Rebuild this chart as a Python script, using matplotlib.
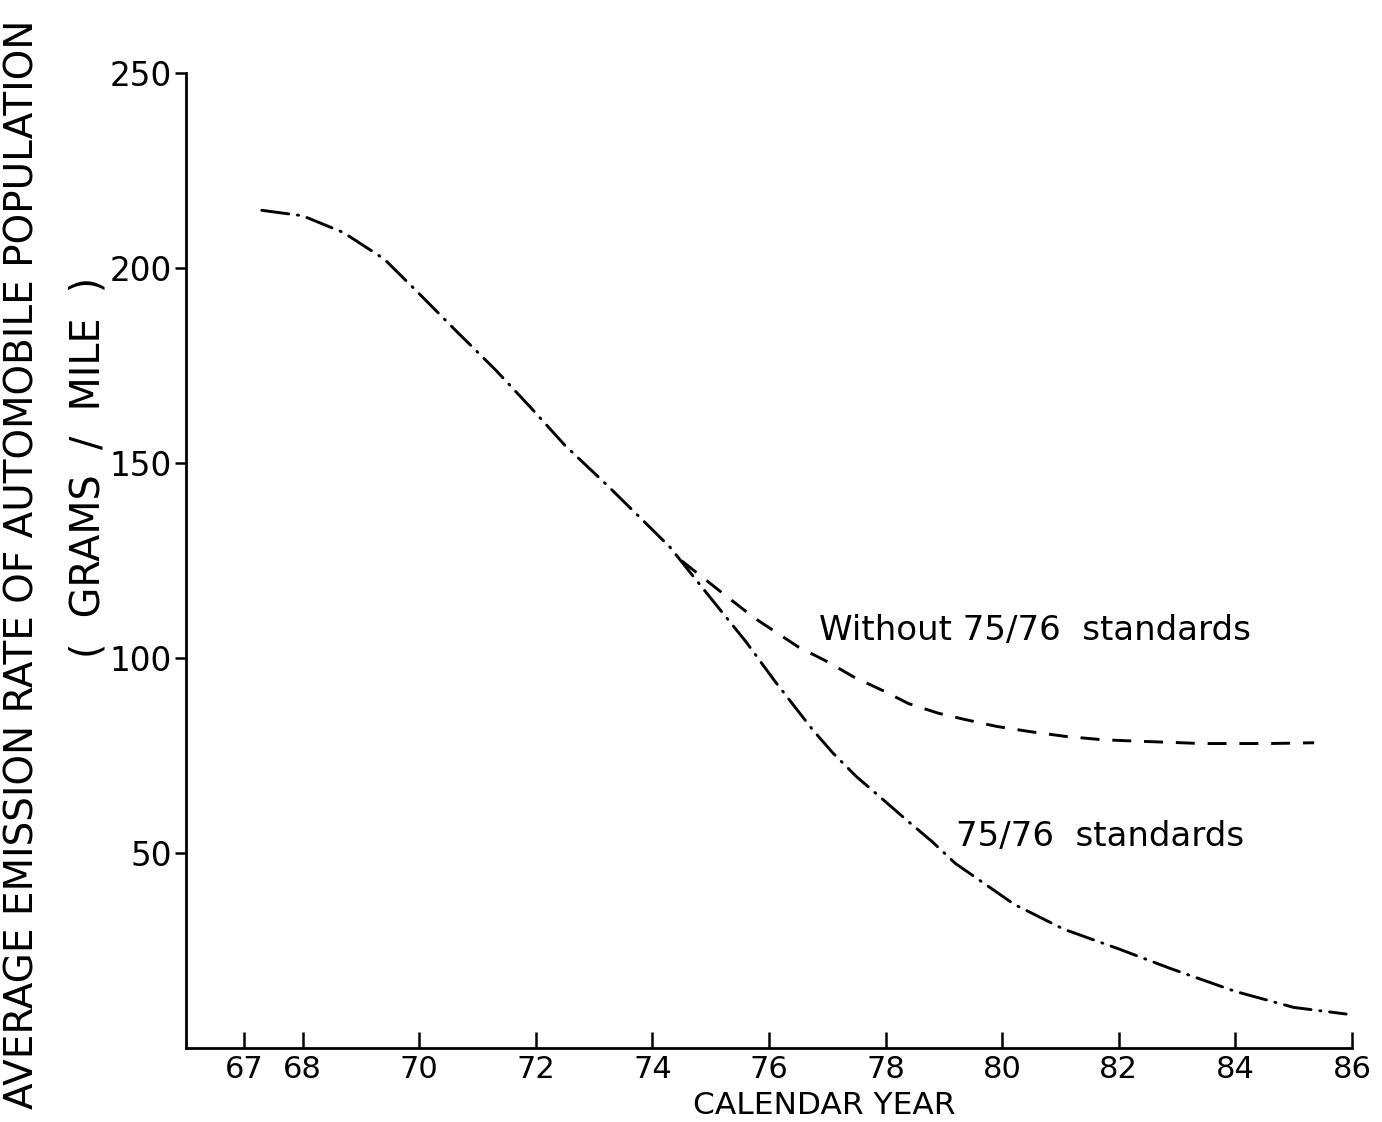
import matplotlib
matplotlib.use("Agg")
import matplotlib.pyplot as plt

# 75/76 standards (dash-dot curve)
std_years = [67.3, 68.0, 68.7, 69.4, 70.0, 70.65, 71.3, 71.9, 72.5, 73.2, 73.8, 74.3,
             75.0, 75.6, 76.1, 76.75, 77.1, 77.5, 77.95, 78.35, 78.8, 79.2, 80.2,
             81.05, 82.0, 82.9, 84.0, 85.0, 85.9]
std_vals = [214.9, 213.5, 209.2, 202.4, 193.5, 183.7, 174.1, 164.5, 154.6, 144.7,
            135.9, 128.5, 115.4, 104.3, 94.1, 81.6, 75.6, 69.6, 63.8, 58.6, 52.9,
            47.3, 36.9, 30.5, 25.4, 20.3, 14.5, 10.4, 8.7]

# without 75/76 standards (dashed curve), branches off near 74.5
wo_years = [74.5, 75.2, 75.75, 76.5, 77.0, 77.45, 77.95, 78.4, 78.9, 79.35, 79.9,
            80.5, 81.1, 81.7, 82.3, 82.9, 83.4, 84.0, 84.6, 85.35]
wo_vals = [125.0, 116.7, 110.3, 102.9, 99.1, 95.2, 91.7, 88.3, 85.9, 84.3, 82.5,
           81.1, 79.9, 79.1, 78.7, 78.4, 78.1, 78.1, 78.1, 78.3]

x_ticks = [67, 68, 70, 72, 74, 76, 78, 80, 82, 84, 86]
y_ticks = [50, 100, 150, 200, 250]

plt.rcParams['font.family'] = ['DejaVu Sans']

fig = plt.figure(figsize=(13.82, 11.22), dpi=100)
ax = fig.add_axes([0.1346, 0.066, 0.9783 - 0.1346, 0.9345 - 0.066])

lw = 2.1
ax.plot(std_years, std_vals, color='black', lw=lw,
        linestyle=(0, (9.3, 3.0, 0.4, 3.0)), dash_capstyle='round')
ax.plot(wo_years, wo_vals, color='black', lw=lw,
        linestyle=(0, (6.5, 4.4)), dash_capstyle='butt')

ax.set_xlim(66, 86)
ax.set_ylim(0, 250)
ax.spines['top'].set_visible(False)
ax.spines['right'].set_visible(False)
for s in ('left', 'bottom'):
    ax.spines[s].set_linewidth(2.0)

ax.set_xticks(x_ticks)
ax.set_xticklabels([str(t) for t in x_ticks])
ax.set_yticks(y_ticks)
ax.set_yticklabels([str(t) for t in y_ticks])
ax.tick_params(axis='x', direction='in', length=11.5, width=1.8, pad=5, labelsize=22)
ax.tick_params(axis='y', direction='out', length=8, width=1.8, pad=2, labelsize=23.5)

ax.text(76.94, -0.0595, 'CALENDAR YEAR', transform=ax.get_xaxis_transform(),
        ha='center', va='center', fontsize=22.5)

fig.text(0.016, 0.497, 'AVERAGE EMISSION RATE OF AUTOMOBILE POPULATION',
         rotation=90, ha='center', va='center', fontsize=28)
fig.text(0.0637, 0.583, '(  GRAMS  /  MILE  )', rotation=90,
         ha='center', va='center', fontsize=28.5)

ax.text(76.85, (1050 - 632) / 3.906, 'Without 75/76  standards',
        ha='left', va='center', fontsize=24.5)
ax.text(79.2, (1050 - 838) / 3.906, '75/76  standards',
        ha='left', va='center', fontsize=24.5)

fig.savefig('out.png', dpi=100)
